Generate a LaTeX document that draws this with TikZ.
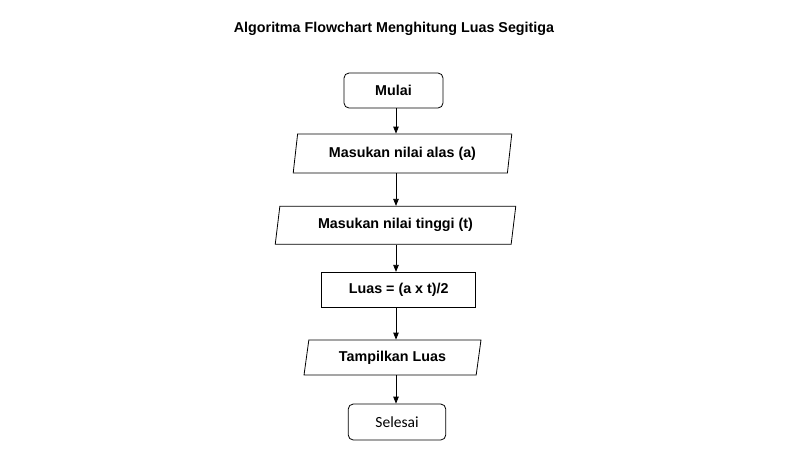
\documentclass[tikz,border=0pt]{standalone}
\usepackage{fontspec}
\setmainfont{Liberation Sans}
\newfontfamily\calibri{Carlito}
\usetikzlibrary{shapes.geometric,arrows.meta}

\begin{document}
\begin{tikzpicture}[x=1pt,y=-1pt,thick,
    boxfont/.style={font=\fontsize{14.3}{16}\selectfont\bfseries},
    terminal/.style={draw, rounded corners=5pt, inner sep=0pt},
    io/.style={draw, trapezium, trapezium left angle=77, trapezium right angle=103,
        trapezium stretches=true, inner sep=0pt, boxfont},
    process/.style={draw, inner sep=0pt, boxfont},
    flow/.style={-{Triangle[length=7pt,width=5.5pt]}}]
    \useasboundingbox (0,0) rectangle (800,475);

    % spine for the arrows
    \coordinate (S) at (396,0);

    \node[anchor=base, boxfont] (judul) at (394,32.3)
        {Algoritma Flowchart Menghitung Luas Segitiga};

    \node[terminal, boxfont, minimum width=99pt, minimum height=35pt] (mulai) at (393.5,90.5) {Mulai};
    \node[io, minimum width=219pt, minimum height=39pt] (alas) at (402.5,153.5) {Masukan nilai alas (a)};
    \node[io, minimum width=241pt, minimum height=38pt] (tinggi) at (395.5,225.3) {Masukan nilai tinggi (t)};
    \node[process, minimum width=154pt, minimum height=35.5pt] (luas) at (398.7,290) {Luas = (a x t)/2};
    \node[io, minimum width=177pt, minimum height=35pt] (tampil) at (392.5,357.5) {Tampilkan Luas};
    \node[terminal, minimum width=97.5pt, minimum height=36pt, font=\calibri\fontsize{15.5}{18}\selectfont]
        (selesai) at (397,422) {Selesai};

    % arrows
    \draw[flow] (S |- mulai.south) -- (S |- alas.north);
    \draw[flow] (S |- alas.south) -- (S |- tinggi.north);
    \draw[flow] (S |- tinggi.south) -- (S |- luas.north);
    \draw[flow] (S |- luas.south) -- (S |- tampil.north);
    \draw[flow] (S |- tampil.south) -- (S |- selesai.north);

\end{tikzpicture}
\end{document}
